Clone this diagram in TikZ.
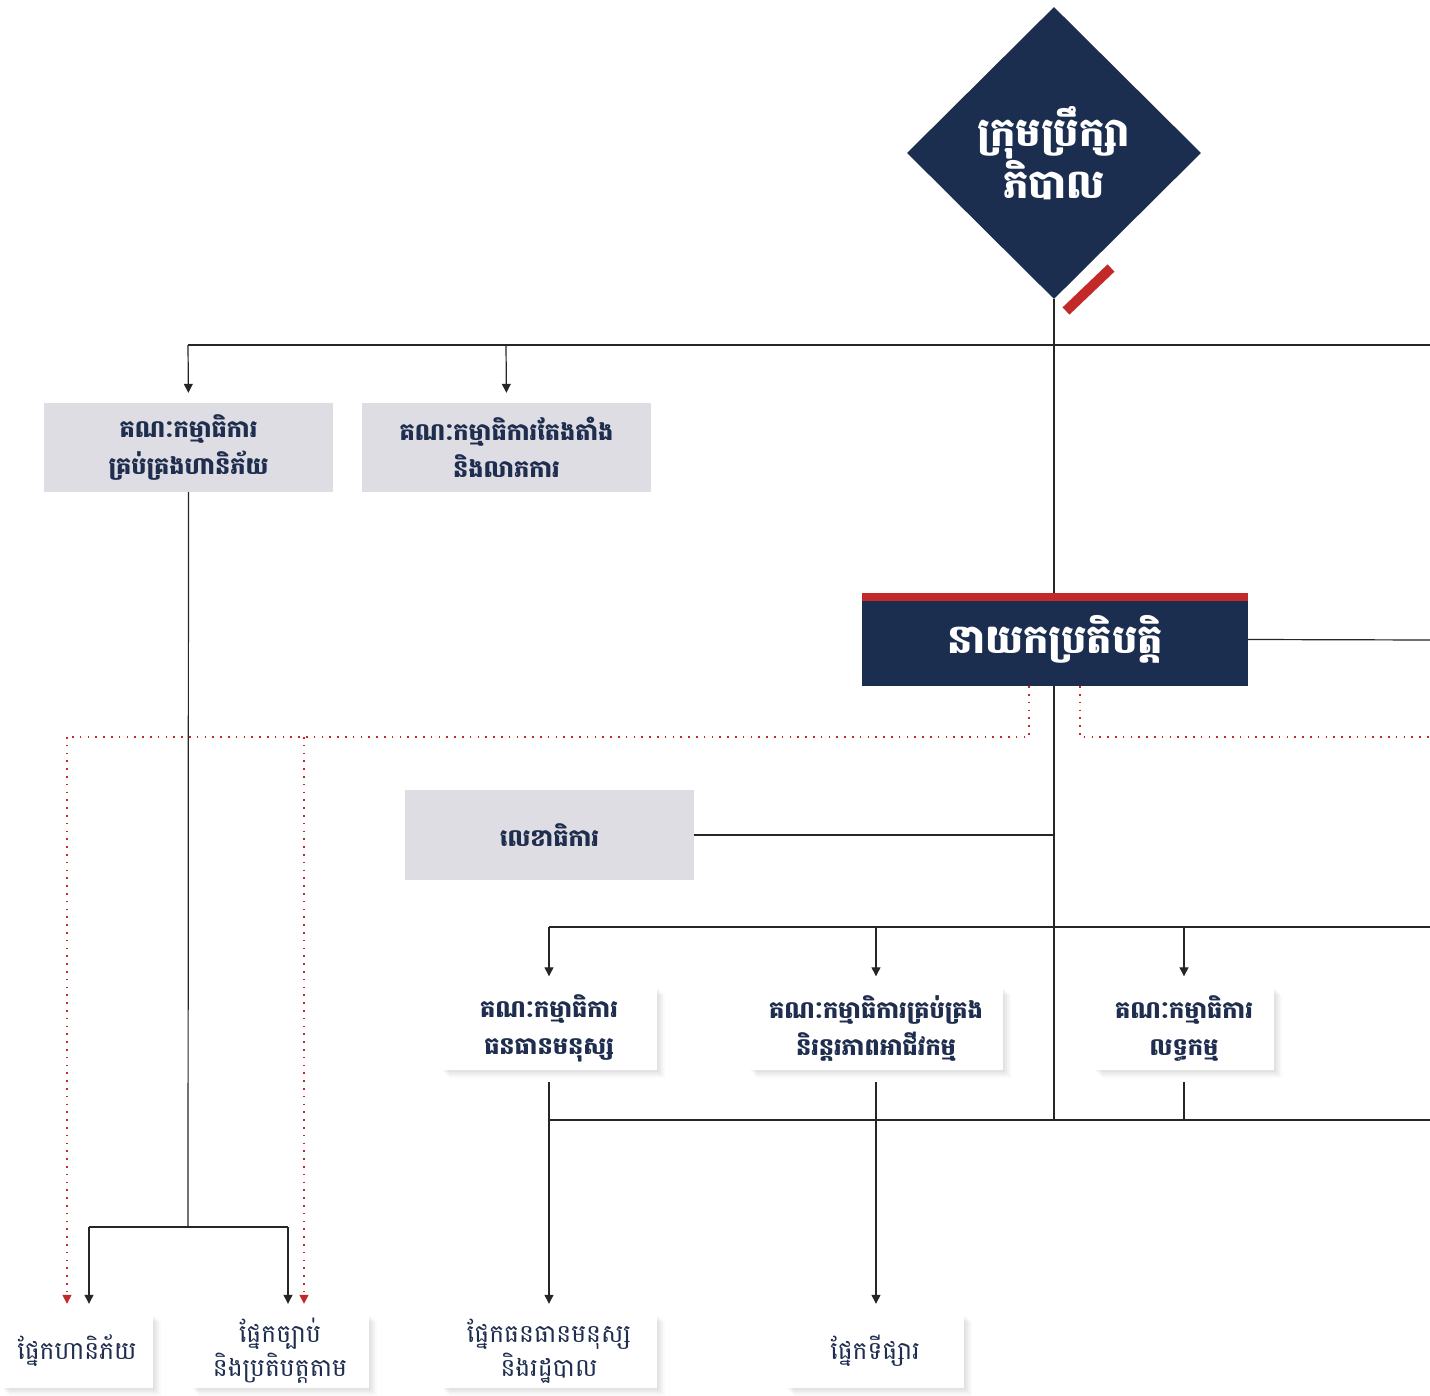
\documentclass[tikz,border=0pt]{standalone}
\usepackage{fontspec}
\newfontfamily\khmer[Script=Khmer]{Battambang}
\usetikzlibrary{arrows.meta,shapes.geometric,shadows}
\definecolor{navy}{HTML}{1C2E50}
\definecolor{kred}{HTML}{C4292A}
\definecolor{kgrey}{HTML}{DDDDE3}
\definecolor{ktext}{HTML}{1F2D4E}
\tikzset{
  conn/.style={draw=black!85, line width=1.2pt},
  arr/.style={conn, -{Triangle[width=9pt,length=9pt]}, shorten >=10pt},
  redarr/.style={draw=kred, line width=1.6pt, dash pattern=on 1.6pt off 6.2pt, -{Triangle[width=9pt,length=9pt,fill=kred]}},
  reddot/.style={draw=kred, line width=1.6pt, dash pattern=on 1.6pt off 6.2pt},
  softshadow/.style={
    general shadow={fill=black, opacity=0.03, shadow xshift=2pt, shadow yshift=-2pt},
    general shadow={fill=black, opacity=0.03, shadow xshift=4pt, shadow yshift=-4pt},
    general shadow={fill=black, opacity=0.03, shadow xshift=6pt, shadow yshift=-6pt},
    general shadow={fill=black, opacity=0.02, shadow xshift=8pt, shadow yshift=-8pt}},
  greybox/.style={fill=kgrey, inner sep=0pt, align=center, text=ktext,
    font=\khmer\bfseries\fontsize{24}{37}\selectfont},
  whitebox/.style={fill=white, softshadow, inner sep=0pt, align=center, text=ktext,
    font=\khmer\bfseries\fontsize{24}{37}\selectfont},
  deptbox/.style={fill=white, softshadow, inner sep=0pt, align=center, text=ktext,
    font=\khmer\fontsize{25}{34}\selectfont},
}
\begin{document}
\begin{tikzpicture}[x=1pt,y=-1pt]
\useasboundingbox (0,0) rectangle (1430,1396);
\fill[white] (0,0) rectangle (1430,1396);

% coordinates
\coordinate (topL) at (188,345);
\coordinate (topM) at (506,345);
\coordinate (topR) at (1430,345);
\coordinate (execR) at (1430,640);
\coordinate (secJ) at (1054,835);
\coordinate (midL) at (549,927);
\coordinate (midM) at (876,927);
\coordinate (midN) at (1184,927);
\coordinate (midR) at (1430,927);
\coordinate (lowJ) at (1054,1120);
\coordinate (lowL) at (549,1120);
\coordinate (lowN) at (1184,1120);
\coordinate (lowR) at (1430,1120);
\coordinate (riskJ) at (188,1227);
\coordinate (riskL) at (89,1227);
\coordinate (riskR) at (288,1227);
\coordinate (dA) at (1029,737);
\coordinate (dL) at (67,737);
\coordinate (dM) at (304,737);
\coordinate (dB) at (1080,737);
\coordinate (dR) at (1430,737);

% nodes
\node[diamond, fill=navy, minimum width=294pt, minimum height=292pt, inner sep=0pt,
  text=white, align=center, font=\khmer\bfseries\fontsize{40}{52}\selectfont]
  (board) at (1054,153) {ក្រុមប្រឹក្សា\\ភិបាល};

\node[greybox, minimum width=289pt, minimum height=89pt] (c1) at (188.5,447.5)
  {គណៈកម្មាធិការ\\គ្រប់គ្រងហានិភ័យ};
\node[greybox, minimum width=289pt, minimum height=89pt] (c2) at (506.5,447.5)
  {គណៈកម្មាធិការតែងតាំង\\និងលាភការ};

% lines behind exec
\draw[conn] (board.south) -- (lowJ);
\draw[conn] (topL) -- (topR);
\draw[arr] (topL) -- (c1.north);
\draw[arr] (topM) -- (c2.north);

\node[fill=navy, minimum width=386pt, minimum height=93pt, inner sep=0pt,
  text=white, font=\khmer\bfseries\fontsize{40}{46}\selectfont]
  (exec) at (1055,639.5) {នាយកប្រតិបត្តិ};
\fill[kred] (exec.north west) rectangle ([yshift=-8pt]exec.north east);

% red mark below diamond
\draw[kred, line width=10pt] (1066,311) -- (1111,268);

\node[greybox, minimum width=289pt, minimum height=90pt] (sec) at (549.5,835)
  {លេខាធិការ};

\node[whitebox, minimum width=216pt, minimum height=83pt] (c3) at (549,1028)
  {គណៈកម្មាធិការ\\ធនធានមនុស្ស};
\node[whitebox, minimum width=254pt, minimum height=83pt] (c4) at (876,1028)
  {គណៈកម្មាធិការគ្រប់គ្រង\\និរន្តរភាពអាជីវកម្ម};
\node[whitebox, minimum width=180pt, minimum height=83pt] (c5) at (1184,1028)
  {គណៈកម្មាធិការ\\លទ្ធកម្ម};

\node[deptbox, minimum width=152pt, minimum height=74pt] (d1) at (77,1351)
  {ផ្នែកហានិភ័យ};
\node[deptbox, minimum width=178pt, minimum height=74pt] (d2) at (280,1351)
  {ផ្នែកច្បាប់\\និងប្រតិបត្តតាម};
\node[deptbox, minimum width=216pt, minimum height=74pt] (d3) at (549,1351)
  {ផ្នែកធនធានមនុស្ស\\និងរដ្ឋបាល};
\node[deptbox, minimum width=178pt, minimum height=74pt] (d4) at (875,1351)
  {ផ្នែកទីផ្សារ};

% connectors
\draw[conn] (exec.east) -- (execR);
\draw[conn] (sec.east) -- (secJ);
\draw[conn] (midL) -- (midR);
\draw[arr] (midL) -- (c3.north);
\draw[arr] (midM) -- (c4.north);
\draw[arr] (midN) -- (c5.north);
\draw[conn] (lowL) -- (lowR);
\draw[conn] ([yshift=-12pt]c5.south) -- (lowN);
\draw[arr] ([yshift=-12pt]c3.south) -- (d3.north);
\draw[arr] ([yshift=-12pt]c4.south) -- (d4.north -| c4.south);
\draw[conn] (c1.south) -- (riskJ);
\draw[conn] (riskL) -- (riskR);
\draw[arr] (riskL) -- (d1.north -| riskL);
\draw[arr] (riskR) -- (d2.north -| riskR);

% red dotted
\draw[reddot] (exec.south -| dA) -- (dA) -- (dL);
\draw[redarr, shorten >=10pt] (dL) -- (d1.north -| dL);
\draw[redarr, shorten >=10pt] (dM) -- (d2.north -| dM);
\draw[reddot] (exec.south -| dB) -- (dB) -- (dR);
\end{tikzpicture}
\end{document}
